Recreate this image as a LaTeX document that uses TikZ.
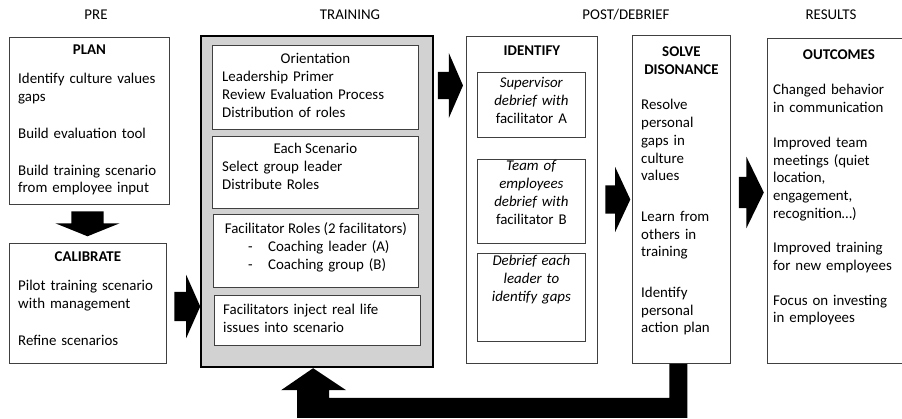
\documentclass[tikz,border=0pt]{standalone}
\usepackage{fontspec}
\setmainfont{Carlito}
\usetikzlibrary{positioning, calc}
\usetikzlibrary{shapes.arrows}
\usepackage{xcolor}
\definecolor{boxgray}{RGB}{210,210,210}

\begin{document}
\begin{tikzpicture}[x=1pt, y=1pt, font=\fontsize{14.9}{17.7}\selectfont,
  mybox/.style={draw=black!75, line width=0.8pt, fill=white, anchor=north west, inner sep=0pt},
  mytitle/.style={anchor=base, inner sep=0pt, font=\fontsize{14.9}{17.7}\selectfont\bfseries},
  mytext/.style={anchor=base west, inner sep=0pt, align=left, text width=#1},
  mytext/.default=150pt,
  mymid/.style={anchor=base, inner sep=0pt, align=center, text width=#1},
  mymid/.default=105pt,
  myarrow/.style={single arrow, fill=black, draw=none, inner xsep=0pt, minimum height=25pt},]

  \useasboundingbox (0,0) rectangle (902,-419);

  % column headers
  \node[anchor=base] (hpre) at (96,-20) {PRE};
  \node[anchor=base] (htrain) at (350,-20) {TRAINING};
  \node[anchor=base] (hpost) at (626,-20) {POST/DEBRIEF};
  \node[anchor=base] (hres) at (831,-20) {RESULTS};

  % pre
  \node[mybox, minimum width=160pt, minimum height=167pt] (plan) at (9,-37) {};
  \node[mytitle] (plantitle) at ($(plan.north)+(0,-18)$) {PLAN};
  \node[mytext=142pt] (plantext) at ($(plan.north west)+(9,-47)$) {Identify culture values\\gaps\\[19pt]Build evaluation tool\\[19pt]Build training scenario\\from employee input};

  \node[mybox, minimum width=157pt, minimum height=120pt] (calib) at (9,-243) {};
  \node[mytitle] (calibtitle) at ($(calib.north)+(0,-19)$) {CALIBRATE};
  \node[mytext=142pt] (calibtext) at ($(calib.north west)+(9,-48)$) {Pilot training scenario\\with management\\[19pt]Refine scenarios};

  % training
  \node[mybox, draw=black, line width=2.2pt, fill=boxgray, minimum width=232pt, minimum height=331pt] (training) at (200,-35) {};

  \node[mybox, minimum width=206pt, minimum height=84pt] (orient) at (212,-45) {};
  \node[anchor=base, inner sep=0pt] (orienttitle) at ($(orient.north)+(0,-19)$) {Orientation};
  \node[mytext=190pt] (orienttext) at ($(orient.north west)+(10,-37)$) {Leadership Primer\\Review Evaluation Process\\Distribution of roles};

  \node[mybox, minimum width=206pt, minimum height=72pt] (scen) at (212,-136) {};
  \node[anchor=base, inner sep=0pt] (scentitle) at ($(scen.north)+(0,-18)$) {Each Scenario};
  \node[mytext=190pt] (scentext) at ($(scen.north west)+(10,-36)$) {Select group leader\\Distribute Roles};

  \node[mybox, minimum width=205pt, minimum height=73pt] (roles) at (213,-214) {};
  \node[anchor=base, inner sep=0pt] (rolestitle) at ($(roles.north)+(0,-20)$) {Facilitator Roles (2 facilitators)};
  \node[mytext=160pt] (rolestext) at ($(roles.north west)+(35,-38)$) {\makebox[20pt][l]{-}Coaching leader (A)\\\makebox[20pt][l]{-}Coaching group (B)};

  \node[mybox, minimum width=206pt, minimum height=50pt] (inject) at (214,-295) {};
  \node[mytext=190pt] (injecttext) at ($(inject.north west)+(9,-20)$) {Facilitators inject real life\\issues into scenario};

  % post / debrief
  \node[mybox, minimum width=131pt, minimum height=327pt] (identify) at (466,-36) {};
  \node[mytitle] (identifytitle) at ($(identify.north)+(0,-20)$) {IDENTIFY};

  \node[mybox, minimum width=108pt, minimum height=65pt] (superv) at (477,-72) {};
  \node[mymid] (supervtext) at ($(superv.north)+(0,-16)$) {\textit{Supervisor}\\\textit{debrief with}\\facilitator A};

  \node[mybox, minimum width=108pt, minimum height=84pt] (team) at (477,-159) {};
  \node[mymid] (teamtext) at ($(team.north)+(0,-12)$) {\textit{Team of}\\\textit{employees}\\\textit{debrief with}\\facilitator B};

  \node[mybox, minimum width=108pt, minimum height=88pt] (debrief) at (477,-253) {};
  \node[mymid] (debrieftext) at ($(debrief.north)+(0,-13)$) {\textit{Debrief each}\\\textit{leader to}\\\textit{identify gaps}};

  \node[mybox, minimum width=98pt, minimum height=328pt] (solve) at (632,-35) {};
  \node[mymid=95pt, font=\fontsize{14.9}{17.7}\selectfont\bfseries] (solvetitle) at ($(solve.north)+(0,-22)$) {SOLVE\\DISONANCE};
  \node[mytext=85pt] (solvetext) at ($(solve.north west)+(9,-75)$) {Resolve\\personal\\gaps in\\culture\\values\\[23pt]Learn from\\others in\\training\\[23pt]Identify\\personal\\action plan};

  % results
  \node[mybox, minimum width=143pt, minimum height=325pt] (outcomes) at (767,-38) {};
  \node[mytitle] (outcomestitle) at ($(outcomes.north)+(0,-22)$) {OUTCOMES};
  \node[mytext=125pt] (outcomestext) at ($(outcomes.north west)+(6,-57)$) {Changed behavior\\in communication\\[17pt]Improved team\\meetings (quiet\\location,\\engagement,\\recognition…)\\[17pt]Improved training\\for new employees\\[17pt]Focus on investing\\in employees};

  % block arrows
  \node[myarrow, inner xsep=16pt, inner ysep=0pt, minimum width=64pt, single arrow head extend=16pt, single arrow tip angle=136, shape border rotate=270] (a1) at (87.5,-220.5) {};
  \node[myarrow, inner ysep=14.5pt, minimum width=63pt, single arrow head extend=17pt, single arrow tip angle=132, minimum height=26pt] (a2) at (184,-306.5) {};
  \node[myarrow, inner ysep=13.5pt, minimum width=65pt, single arrow head extend=19pt, single arrow tip angle=133] (a3) at (447.5,-85.5) {};
  \node[myarrow, inner ysep=14pt, minimum width=65pt, single arrow head extend=18.5pt, single arrow tip angle=130] (a4) at (614.5,-199.5) {};
  \node[myarrow, inner ysep=15.5pt, minimum width=71pt, single arrow head extend=20pt, single arrow tip angle=128] (a5) at (747.5,-192.5) {};

  % feedback from solve back into training
  \fill[black] ($(solve.south)+(-12,0)$) -- ++(18,0) -- ++(0,-54) -| ($(training.south)+(-20,-22)$) -- ++(-16,0) -- ($(training.south)+(-4,0)$) -- ++(33,-22) -- ++(-17,0) |- ($(solve.south)+(-12,-34)$) -- cycle;

\end{tikzpicture}
\end{document}
